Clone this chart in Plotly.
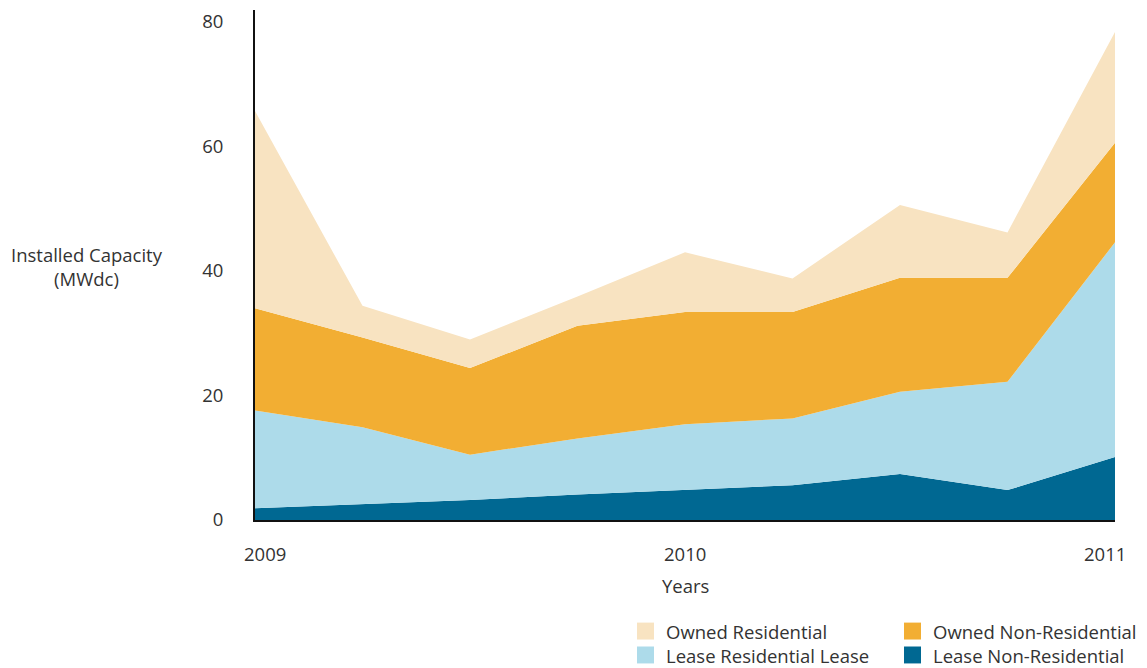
import plotly.graph_objects as go

# Quarterly points from 2009 to 2011
quarters = [2009.0, 2009.25, 2009.5, 2009.75, 2010.0, 2010.25, 2010.5, 2010.75, 2011.0]

# Installed capacity by segment (MWdc), stacked bottom to top
lease_non_residential = [1.9, 2.6, 3.2, 4.1, 4.8, 5.6, 7.4, 4.8, 10.1]
lease_residential = [15.7, 12.3, 7.3, 9.0, 10.6, 10.7, 13.2, 17.4, 34.5]
owned_non_residential = [16.4, 14.4, 13.9, 18.1, 18.0, 17.1, 18.3, 16.7, 16.0]
owned_residential = [31.7, 5.1, 4.6, 4.7, 9.6, 5.4, 11.7, 7.3, 17.8]

year_ticks = [2009, 2010, 2011]
year_labels = ["2009", "2010", "2011"]
y_ticks = [0, 20, 40, 60, 80]

series = [
    ("Lease Non-Residential", lease_non_residential, "#006892"),
    ("Lease Residential Lease", lease_residential, "#ADDBEA"),
    ("Owned Non-Residential", owned_non_residential, "#F2AE33"),
    ("Owned Residential", owned_residential, "#F8E3C1"),
]

FONT = "Open Sans"
FS = 18.5
TXT = "#333333"

fig = go.Figure()
for name, vals, color in series:
    fig.add_trace(go.Scatter(
        x=quarters, y=vals, name=name, mode="lines",
        stackgroup="one", line=dict(width=0), fillcolor=color,
        showlegend=False,
    ))

W, H = 1147, 668
L, R, T, B = 255, 32, 8, 148
pw, ph = W - L - R, H - T - B


def px_x(x):
    return (x - L) / pw


def px_y(y):
    return (H - B - y) / ph


annotations = []
# Year labels under the axis, nudged inward at the ends
shifts = [10, 0, -10]
for v, lab, s in zip(year_ticks, year_labels, shifts):
    annotations.append(dict(
        x=v, y=0, xref="x", yref="paper", text=lab, showarrow=False,
        xanchor="center", yanchor="middle", xshift=s, yshift=-33,
        font=dict(family=FONT, size=FS, color=TXT),
    ))
annotations.append(dict(
    x=2010, y=0, xref="x", yref="paper", text="Years", showarrow=False,
    xanchor="center", yanchor="middle", yshift=-65,
    font=dict(family=FONT, size=FS, color=TXT),
))
annotations.append(dict(
    x=0, y=px_y(266), xref="paper", yref="paper",
    text="Installed Capacity<br>(MWdc)", showarrow=False,
    xanchor="center", yanchor="middle", xshift=-168, align="center",
    font=dict(family=FONT, size=FS, color=TXT),
))

# Two-column legend drawn below the chart
legend_items = [
    ("Owned Residential", "#F8E3C1", 637, 623),
    ("Owned Non-Residential", "#F2AE33", 904, 623),
    ("Lease Residential Lease", "#ADDBEA", 637, 647),
    ("Lease Non-Residential", "#006892", 904, 647),
]
shapes = []
for name, color, sx, sy in legend_items:
    shapes.append(dict(
        type="rect", xref="paper", yref="paper",
        x0=px_x(sx), x1=px_x(sx + 17), y0=px_y(sy + 17), y1=px_y(sy),
        fillcolor=color, line=dict(width=0),
    ))
    annotations.append(dict(
        x=px_x(sx + 27), y=px_y(sy + 9), xref="paper", yref="paper",
        text=name, showarrow=False, xanchor="left", yanchor="middle",
        font=dict(family=FONT, size=FS, color=TXT),
    ))

fig.update_layout(
    width=W, height=H,
    margin=dict(l=L, r=R, t=T, b=B),
    paper_bgcolor="white", plot_bgcolor="white",
    font=dict(family=FONT, size=FS, color=TXT),
    showlegend=False,
    annotations=annotations,
    shapes=shapes,
)
fig.update_xaxes(
    range=[2009, 2011], tickvals=year_ticks, showticklabels=False,
    showgrid=False, zeroline=False, ticks="",
    showline=True, linecolor="#111111", linewidth=2,
)
fig.update_yaxes(
    range=[0, ph / 6.25], tickvals=y_ticks, showgrid=False, zeroline=False,
    ticks="", ticklabelstandoff=26,
    showline=True, linecolor="#111111", linewidth=2,
    tickfont=dict(family=FONT, size=FS, color=TXT),
)

fig.write_html("out.html")
